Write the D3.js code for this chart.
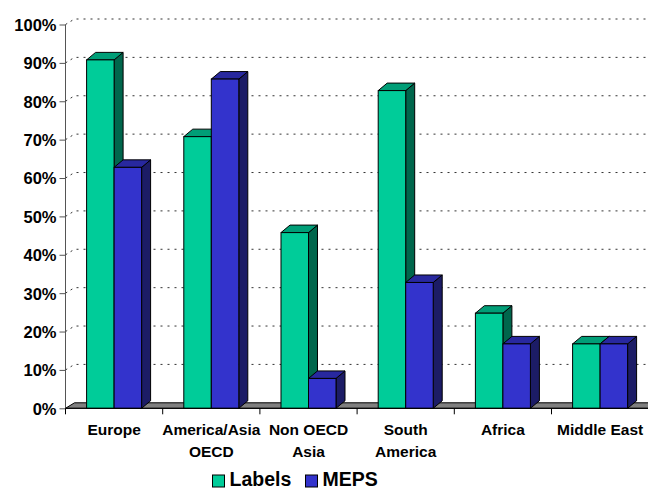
<!DOCTYPE html>
<html>
<head>
<meta charset="utf-8">
<script src="https://cdn.jsdelivr.net/npm/d3@7"></script>
<style>
  body{margin:0;background:#fff;}
  svg text{font-family:Arial,"Liberation Sans",sans-serif;font-weight:bold;fill:#000;}
</style>
</head>
<body>
<svg id="chart" width="648" height="489"></svg>
<script>
// data
const categories=["Europe","America/Asia\nOECD","Non OECD\nAsia","South\nAmerica","Africa","Middle East"]
const seriesNames=["Labels","MEPS"]
const labelsVals=[90,70,45,82,24,16]
const mepsVals=[62,85,7,32,16,16]
const yTicks=[0,10,20,30,40,50,60,70,80,90,100]

const colors={
  Labels:{front:"#00cc99",top:"#009e77",side:"#00664c"},
  MEPS:{front:"#3333cc",top:"#28289f",side:"#1c1c66"}
}

const svg=d3.select("#chart")
const left=65.5, right=648.7, y0=408.3, y100=24.5
const wallDx=9, wallDy=-5.5      // back wall / floor depth
const barDx=9, barDy=-7.5        // bar depth
const barLift=3                  // front face sits a bit above axis plane

const x=d3.scaleBand().domain(categories).range([left,right]).paddingInner(0).paddingOuter(0)
const xs=d3.scaleBand().domain(seriesNames).range([0,x.bandwidth()]).paddingInner(0).paddingOuter(0.767)
const y=d3.scaleLinear().domain([0,100]).range([y0,y100])

// gridlines on the back wall (dotted) + little diagonal on the side wall
const grid=svg.append("g")
yTicks.filter(d=>d>0).forEach(t=>{
  grid.append("line")
    .attr("x1",left).attr("y1",y(t))
    .attr("x2",left+wallDx).attr("y2",y(t)+wallDy)
    .attr("stroke","#333").attr("stroke-width",1).attr("stroke-dasharray","2,4")
  grid.append("line")
    .attr("x1",left+wallDx+2).attr("y1",y(t)+wallDy)
    .attr("x2",648).attr("y2",y(t)+wallDy)
    .attr("stroke","#333").attr("stroke-width",1).attr("stroke-dasharray","2,5")
})

// floor
svg.append("path")
  .attr("d",`M${left},${y0}L${left+wallDx},${y0+wallDy}L${right+wallDx},${y0+wallDy}L${right},${y0}Z`)
  .attr("fill","#808080").attr("stroke","#000").attr("stroke-width",1)

// bars
const data=categories.map((c,i)=>({cat:c,vals:[{s:"Labels",v:labelsVals[i]},{s:"MEPS",v:mepsVals[i]}]}))
const groups=svg.selectAll(".grp").data(data).enter().append("g").attr("class","grp")
  .attr("transform",d=>`translate(${x(d.cat)},0)`)

groups.each(function(d){
  const g=d3.select(this)
  d.vals.forEach(b=>{
    const bx=xs(b.s), bw=xs.bandwidth()
    const top=y(b.v)-barLift, bot=y0
    const c=colors[b.s]
    // side face
    g.append("path")
      .attr("d",`M${bx+bw},${top}L${bx+bw+barDx},${top+barDy}L${bx+bw+barDx},${bot+barDy}L${bx+bw},${bot}Z`)
      .attr("fill",c.side).attr("stroke","#000").attr("stroke-width",1).attr("stroke-linejoin","round")
    // top face
    g.append("path")
      .attr("d",`M${bx},${top}L${bx+barDx},${top+barDy}L${bx+bw+barDx},${top+barDy}L${bx+bw},${top}Z`)
      .attr("fill",c.top).attr("stroke","#000").attr("stroke-width",1).attr("stroke-linejoin","round")
    // front face
    g.append("rect")
      .attr("x",bx).attr("y",top).attr("width",bw).attr("height",bot-top)
      .attr("fill",c.front).attr("stroke","#000").attr("stroke-width",1)
  })
})

// axes
const yAxis=svg.append("g").attr("transform",`translate(${left},0)`)
  .call(d3.axisLeft(y).tickValues(yTicks).tickSize(6).tickPadding(3).tickFormat(d=>d+"%"))
yAxis.select(".domain").attr("stroke","#555").attr("d",`M0,${y100}V${y0}`)
yAxis.selectAll(".tick line").attr("stroke","#555")
yAxis.selectAll("text").attr("font-size","16.5px").attr("dy","0.36em")

svg.append("line").attr("x1",left).attr("x2",648).attr("y1",y0).attr("y2",y0).attr("stroke","#000")
const bounds=categories.map(c=>x(c)).concat([right])
svg.selectAll(".xtick").data(bounds).enter().append("line").attr("class","xtick")
  .attr("x1",d=>d).attr("x2",d=>d).attr("y1",y0).attr("y2",y0+6).attr("stroke","#000")

const xl=svg.selectAll(".xlab").data(categories).enter().append("text").attr("class","xlab")
  .attr("text-anchor","middle").attr("font-size","15.5px")
  .attr("transform",d=>`translate(${x(d)+x.bandwidth()/2},435)`)
xl.each(function(d){
  d.split("\n").forEach((line,i)=>{
    d3.select(this).append("tspan").attr("x",0).attr("y",i*21.7).text(line)
  })
})

// legend
const legend=svg.append("g")
const legX=[212.5,305.5]
seriesNames.forEach((s,i)=>{
  legend.append("rect").attr("x",legX[i]).attr("y",475).attr("width",12).attr("height",12)
    .attr("fill",colors[s].front).attr("stroke","#000").attr("stroke-width",1)
  legend.append("text").attr("x",legX[i]+17).attr("y",486).attr("font-size","19.5px").text(s)
})
</script>
</body>
</html>
